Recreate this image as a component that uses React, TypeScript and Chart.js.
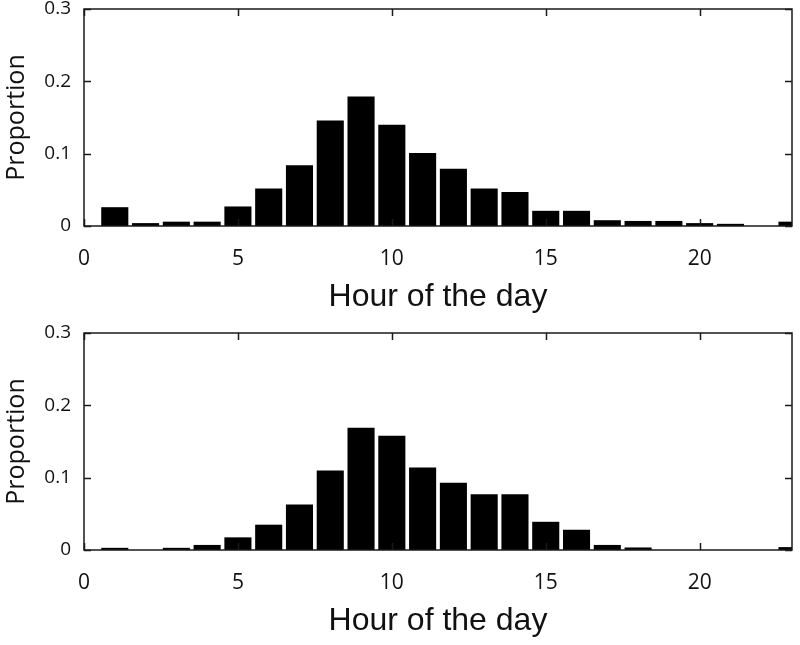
import React, { useEffect, useRef } from "react";
import { Chart, registerables } from "chart.js";

Chart.register(...registerables);

const hours = [1, 2, 3, 4, 5, 6, 7, 8, 9, 10, 11, 12, 13, 14, 15, 16, 17, 18, 19, 20, 21, 22, 23];
const topProportion = [
  0.026, 0.004, 0.006, 0.006, 0.027, 0.052, 0.084, 0.146, 0.179, 0.14, 0.101, 0.079,
  0.052, 0.047, 0.021, 0.021, 0.008, 0.007, 0.007, 0.004, 0.003, 0, 0.006,
];
const bottomProportion = [
  0.003, 0, 0.003, 0.007, 0.0175, 0.035, 0.063, 0.11, 0.169, 0.158, 0.114, 0.093,
  0.077, 0.077, 0.039, 0.028, 0.007, 0.0035, 0, 0, 0, 0, 0.004,
];
const xTicks = [0, 5, 10, 15, 20];
const yTicks = [0, 0.1, 0.2, 0.3];
const yTickLabels = ["0", "0.1", "0.2", "0.3"];
const xTitle = "Hour of the day";
const yTitle = "Proportion";

const CANVAS_H = 321;

const framePlugin = {
  id: "frameTicks",
  afterDatasetsDraw(chart: any) {
    const { ctx, chartArea, scales } = chart;
    const { left, right, top, bottom } = chartArea;
    const x = scales.x;
    const y = scales.y;
    const len = 7;
    ctx.save();
    ctx.strokeStyle = "#1a1a1a";
    ctx.lineWidth = 1.5;
    ctx.strokeRect(left, top, right - left, bottom - top);
    ctx.beginPath();
    xTicks.forEach((v) => {
      const px = Math.round(x.getPixelForValue(v)) + 0.5;
      ctx.moveTo(px, bottom);
      ctx.lineTo(px, bottom - len);
      ctx.moveTo(px, top);
      ctx.lineTo(px, top + len);
    });
    yTicks.forEach((v) => {
      const py = Math.round(y.getPixelForValue(v)) + 0.5;
      ctx.moveTo(left, py);
      ctx.lineTo(left + len, py);
      ctx.moveTo(right, py);
      ctx.lineTo(right - len, py);
    });
    ctx.stroke();
    ctx.restore();
  },
};

function Panel({ values, top }: { values: number[]; top: number }) {
  const ref = useRef<HTMLCanvasElement | null>(null);
  useEffect(() => {
    if (!ref.current) return;
    const chart = new Chart(ref.current, {
      type: "bar",
      data: {
        datasets: [
          {
            data: hours.map((h, i) => ({ x: h, y: values[i] })),
            backgroundColor: "#000000",
            borderWidth: 0,
            barPercentage: 0.88,
            categoryPercentage: 1,
          },
        ],
      },
      options: {
        responsive: false,
        animation: false,
        devicePixelRatio: 1,
        layout: { padding: { top: 9, right: 8, left: 0, bottom: 0 } },
        plugins: { legend: { display: false }, tooltip: { enabled: false } },
        scales: {
          x: {
            type: "linear",
            min: 0,
            max: 23,
            offset: false,
            grid: { display: false, drawTicks: false },
            border: { display: false },
            afterBuildTicks: (s: any) => {
              s.ticks = xTicks.map((v) => ({ value: v }));
            },
            afterFit: (s: any) => {
              s.height = 95;
              s.paddingLeft = 0;
              s.paddingRight = 0;
            },
            ticks: {
              font: { family: "Open Sans", size: 21 },
              color: "#111",
              padding: 20,
              maxRotation: 0,
              autoSkip: false,
              callback: (v: any) => String(v),
            },
            title: {
              display: true,
              text: xTitle,
              font: { family: "Liberation Sans", size: 32 },
              color: "#111",
              padding: { top: 0, bottom: 5 },
            },
          },
          y: {
            min: 0,
            max: 0.3,
            grid: { display: false, drawTicks: false },
            border: { display: false },
            afterBuildTicks: (s: any) => {
              s.ticks = yTicks.map((v) => ({ value: v }));
            },
            afterFit: (s: any) => {
              s.width = 84;
              s.paddingTop = 0;
              s.paddingBottom = 0;
            },
            ticks: {
              font: { family: "Open Sans", size: 19 },
              color: "#111",
              padding: 13,
              callback: (_v: any, i: number) => yTickLabels[i],
            },
            title: {
              display: true,
              text: yTitle,
              font: { family: "Open Sans", size: 25 },
              color: "#111",
              padding: { top: 2, bottom: 0 },
            },
          },
        },
      } as any,
      plugins: [framePlugin],
    });
    return () => chart.destroy();
  }, [values]);
  return (
    <canvas
      ref={ref}
      width={800}
      height={CANVAS_H}
      style={{ position: "absolute", left: 0, top, width: 800, height: CANVAS_H }}
    />
  );
}

export default function App() {
  return (
    <div
      style={{
        position: "absolute",
        left: 0,
        top: 0,
        width: 800,
        height: 645,
        background: "#ffffff",
        overflow: "hidden",
      }}
    >
      <Panel values={topProportion} top={0} />
      <Panel values={bottomProportion} top={324} />
    </div>
  );
}
